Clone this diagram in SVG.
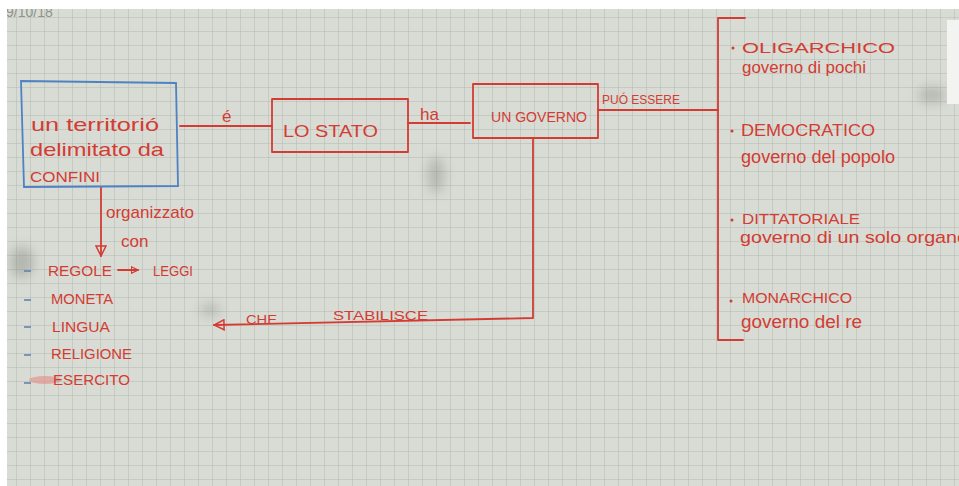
<svg xmlns="http://www.w3.org/2000/svg" width="959" height="486" viewBox="0 0 959 486">
<defs>
  <pattern id="grid" width="14" height="14" patternUnits="userSpaceOnUse" x="3" y="4">
    <rect width="14" height="14" fill="#d8dcd4"/>
    <path d="M14 0 V14 M0 14 H14" stroke="#b3b8b0" stroke-width="1" fill="none"/>
  </pattern>
  <filter id="blur" x="-50%" y="-50%" width="200%" height="200%"><feGaussianBlur stdDeviation="6"/></filter>
  <marker id="tri" viewBox="0 0 12 12" refX="11" refY="6" markerWidth="12" markerHeight="12" markerUnits="userSpaceOnUse" orient="auto">
    <path d="M1 1 L11 6 L1 11 Z" fill="none" stroke="#d43b33" stroke-width="1.5"/>
  </marker>
  <marker id="tri-s" viewBox="0 0 12 12" refX="11" refY="6" markerWidth="8" markerHeight="8" markerUnits="userSpaceOnUse" orient="auto">
    <path d="M1 1 L11 6 L1 11 Z" fill="none" stroke="#d43b33" stroke-width="1.8"/>
  </marker>
  <style>
    .ink{fill:none;stroke:#d43b33;stroke-width:1.8;stroke-linecap:round;stroke-linejoin:round}
    .blue{fill:none;stroke:#4f82c2;stroke-width:1.8}
    .t{font-family:"Liberation Sans","DejaVu Sans",sans-serif;fill:#d43b33}
    .low{font-size:17px}
    .dash{fill:none;stroke:#5a7fb0;stroke-width:1.5}
    .dot{fill:#d43b33}
  </style>
</defs>
<rect width="959" height="486" fill="url(#grid)"/>
<g opacity="0.35" filter="url(#blur)" fill="#6e726c">
  <ellipse cx="436" cy="175" rx="8" ry="18"/>
  <ellipse cx="22" cy="262" rx="12" ry="16"/>
  <ellipse cx="932" cy="95" rx="14" ry="8"/>
  <ellipse cx="210" cy="310" rx="10" ry="6"/>
</g>
<text x="6" y="17" font-family="Liberation Sans, sans-serif" font-size="14" fill="#8e948c">9/10/18</text>
<rect x="0" y="0" width="959" height="9" fill="#ffffff"/>
<rect x="0" y="0" width="7" height="486" fill="#ffffff"/>
<rect x="947" y="20" width="12" height="84" fill="#f3f4f1"/>

<g id="connectors">
  <path class="ink" d="M180 126 H272"/>
  <path class="ink" d="M408 123 H470"/>
  <path class="ink" d="M598 110 H718"/>
  <path class="ink" d="M533 138 V318 L214 325" marker-end="url(#tri)"/>
  <path class="ink" d="M101 187 V256" marker-end="url(#tri)"/>
  <path class="ink" d="M118 270 H138" marker-end="url(#tri-s)"/>
  <text class="t low" x="222" y="122">é</text>
  <text class="t low" x="420" y="120">ha</text>
  <text class="t" x="602" y="104" font-size="12" textLength="78" lengthAdjust="spacingAndGlyphs">PUÓ ESSERE</text>
  <text class="t" x="246" y="324" font-size="13" textLength="31" lengthAdjust="spacingAndGlyphs">CHE</text>
  <text class="t" x="333" y="320" font-size="13" textLength="95" lengthAdjust="spacingAndGlyphs">STABILISCE</text>
  <text class="t low" x="106" y="218">organizzato</text>
  <text class="t low" x="121" y="247">con</text>
</g>

<g id="territorio">
  <path class="blue" d="M21 81 L176 83 L178 186 L24 187 Z"/>
  <text class="t" x="31" y="131" font-size="19" textLength="128" lengthAdjust="spacingAndGlyphs">un territorió</text>
  <text class="t" x="30" y="156" font-size="19" textLength="134" lengthAdjust="spacingAndGlyphs">delimitato da</text>
  <text class="t" x="30" y="182" font-size="14" textLength="70" lengthAdjust="spacingAndGlyphs">CONFINI</text>
</g>

<g id="stato">
  <rect class="ink" x="272" y="99" width="136" height="53"/>
  <text class="t" x="283" y="137" font-size="17" textLength="95" lengthAdjust="spacingAndGlyphs">LO  STATO</text>
</g>

<g id="governo">
  <rect class="ink" x="473" y="84" width="125" height="54"/>
  <text class="t" x="491" y="122" font-size="14" textLength="96" lengthAdjust="spacingAndGlyphs">UN GOVERNO</text>
</g>

<g id="elementi">
  <path class="dash" d="M24 271 H31 M24 300 H31 M24 327 H31 M24 355 H31 M24 383 H31"/>
  <text class="t" x="48" y="276" font-size="15" textLength="64" lengthAdjust="spacingAndGlyphs">REGOLE</text>
  <text class="t" x="153" y="276" font-size="14" textLength="40" lengthAdjust="spacingAndGlyphs">LEGGI</text>
  <text class="t" x="51" y="304" font-size="14" textLength="62" lengthAdjust="spacingAndGlyphs">MONETA</text>
  <text class="t" x="52" y="332" font-size="14" textLength="58" lengthAdjust="spacingAndGlyphs">LINGUA</text>
  <text class="t" x="51" y="359" font-size="14" textLength="81" lengthAdjust="spacingAndGlyphs">RELIGIONE</text>
  <ellipse cx="45" cy="380" rx="16" ry="4" fill="#e48a84" opacity="0.6"/>
  <text class="t" x="53" y="385" font-size="14" textLength="77" lengthAdjust="spacingAndGlyphs">ESERCITO</text>
</g>

<g id="forme">
  <path class="ink" d="M745 18 H718 V340 H743"/>
  <circle class="dot" cx="733" cy="48" r="1.5"/>
  <text class="t" x="742" y="53" font-size="14" textLength="153" lengthAdjust="spacingAndGlyphs">OLIGARCHICO</text>
  <text class="t" x="742" y="73" font-size="16" textLength="124" lengthAdjust="spacingAndGlyphs">governo di pochi</text>
  <circle class="dot" cx="732" cy="131" r="1.5"/>
  <text class="t" x="741" y="136" font-size="16" textLength="134" lengthAdjust="spacingAndGlyphs">DEMOCRATICO</text>
  <text class="t" x="741" y="163" font-size="18" textLength="154" lengthAdjust="spacingAndGlyphs">governo del popolo</text>
  <circle class="dot" cx="732" cy="220" r="1.5"/>
  <text class="t" x="742" y="224" font-size="14" textLength="118" lengthAdjust="spacingAndGlyphs">DITTATORIALE</text>
  <text class="t" x="740" y="243" font-size="17" textLength="228" lengthAdjust="spacingAndGlyphs">governo di un solo organo</text>
  <circle class="dot" cx="731" cy="301" r="1.5"/>
  <text class="t" x="742" y="303" font-size="15" textLength="110" lengthAdjust="spacingAndGlyphs">MONARCHICO</text>
  <text class="t" x="741" y="328" font-size="18" textLength="121" lengthAdjust="spacingAndGlyphs">governo del re</text>
</g>
</svg>
